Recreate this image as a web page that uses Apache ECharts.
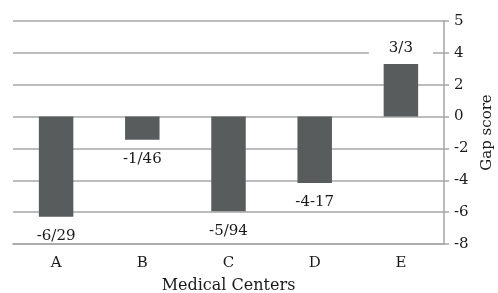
<!DOCTYPE html>
<html>
<head>
<meta charset="utf-8">
<script src="https://cdn.jsdelivr.net/npm/echarts@6/dist/echarts.min.js"></script>
<style>
  html, body { margin: 0; padding: 0; background: #fff; }
  #chart { width: 498px; height: 293px; }
</style>
</head>
<body>
<div id="chart"></div>
<script>
var centers = ['A', 'B', 'C', 'D', 'E'];
var gapScores = [-6.29, -1.46, -5.94, -4.17, 3.3];
var barLabels = ['-6/29', '-1/46', '-5/94', '-4-17', '3/3'];
var yTickLabels = ['-8', '-6', '-4', '-2', '0', '2', '4', '5'];

var font = '"DejaVu Serif", "Liberation Serif", serif';

var chart = echarts.init(document.getElementById('chart'));
chart.setOption({
  animation: false,
  grid: { left: 13, right: 54, top: 21, bottom: 49, containLabel: false, outerBoundsMode: 'none' },
  xAxis: {
    type: 'category',
    data: centers,
    name: 'Medical Centers',
    nameLocation: 'middle',
    nameGap: 34,
    nameTextStyle: { fontFamily: font, fontSize: 16, color: '#1a1a1a' },
    axisLine: { onZero: false, lineStyle: { color: '#a6a6a6', width: 1.5 } },
    axisTick: { show: false },
    axisLabel: { fontFamily: font, fontSize: 15, color: '#1a1a1a', margin: 12 }
  },
  yAxis: {
    type: 'value',
    position: 'right',
    min: -8,
    max: 6,
    interval: 2,
    name: 'Gap score',
    nameLocation: 'middle',
    nameRotate: 90,
    nameGap: 32,
    nameTextStyle: { fontFamily: font, fontSize: 15, color: '#1a1a1a' },
    axisLine: { show: true, lineStyle: { color: '#a6a6a6', width: 1.5 } },
    axisTick: { show: true, length: 5, lineStyle: { color: '#a6a6a6', width: 1.5 } },
    axisLabel: {
      fontFamily: font, fontSize: 15, color: '#1a1a1a', margin: 10,
      formatter: function (v, i) { return yTickLabels[i]; }
    },
    splitLine: { lineStyle: { color: '#a6a6a6', width: 1.5 } }
  },
  series: [{
    type: 'bar',
    barWidth: '40%',
    itemStyle: { color: '#585c5d' },
    data: gapScores.map(function (v, i) {
      return {
        value: v,
        label: {
          show: true,
          position: v < 0 ? 'bottom' : 'top',
          distance: v < 0 ? 12 : 8,
          formatter: barLabels[i],
          fontFamily: font,
          fontSize: 15,
          color: '#1a1a1a',
          backgroundColor: v < 0 ? 'transparent' : '#fff',
          padding: v < 0 ? 0 : [0, 20]
        }
      };
    })
  }]
});
</script>
</body>
</html>
